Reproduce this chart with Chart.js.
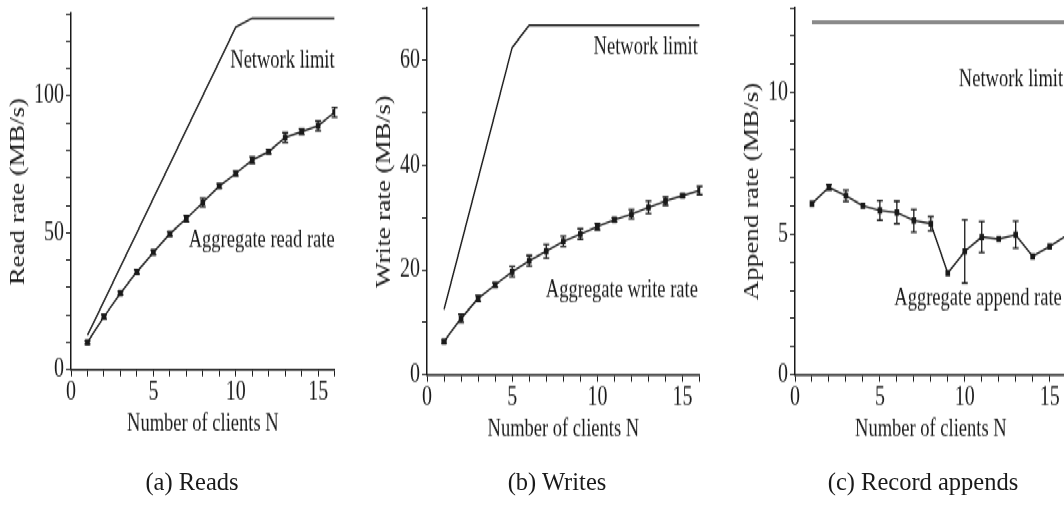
<!DOCTYPE html>
<html>
<head>
<meta charset="utf-8">
<script src="https://cdn.jsdelivr.net/npm/chart.js@4/dist/chart.umd.min.js"></script>
<style>
  html, body { margin: 0; padding: 0; background: #fff; overflow: hidden; width: 1064px; height: 505px; }
  /* the figure is drawn a bit squashed and stretched back vertically, like the scanned original */
  #plots { position: absolute; left: 0; top: 0; width: 1100px; height: 370px; transform: scaleY(1.35); transform-origin: 0 0; }
  .panel { position: absolute; top: 0; height: 370px; }
  .caption { position: absolute; top: 470px; transform: translateX(-50%); font: 24.5px 'Liberation Serif', serif; line-height: 24px; color: #1a1a1a; white-space: nowrap; }
</style>
</head>
<body>
<div id="plots">
  <div class="panel" style="left:0px;width:340px"><canvas id="chartReads"></canvas></div>
  <div class="panel" style="left:366px;width:339px"><canvas id="chartWrites"></canvas></div>
  <div class="panel" style="left:734px;width:338px"><canvas id="chartAppends"></canvas></div>
</div>
<div class="caption" style="left:192px">(a) Reads</div>
<div class="caption" style="left:557px">(b) Writes</div>
<div class="caption" style="left:923px">(c) Record appends</div>

<script>
const clients = [1, 2, 3, 4, 5, 6, 7, 8, 9, 10, 11, 12, 13, 14, 15, 16];

const readLimit = [12.5, 25, 37.5, 50, 62.5, 75, 87.5, 100, 112.5, 125, 128.3, 128.3, 128.3, 128.3, 128.3, 128.3];
const readRate = [10, 19.3, 27.9, 35.7, 42.8, 49.6, 55.1, 61, 67, 71.6, 76.5, 79.6, 84.7, 86.9, 89, 93.9];
const readErr = [0.6, 0.8, 0.6, 0.8, 0.8, 0.8, 1.2, 1.5, 0.8, 0.8, 1.2, 0.8, 1.8, 1.0, 1.8, 1.8];

const writeLimit = [12.5, 25, 37.5, 50, 62.5, 66.7, 66.7, 66.7, 66.7, 66.7, 66.7, 66.7, 66.7, 66.7, 66.7, 66.7];
const writeRate = [6.4, 10.8, 14.6, 17.2, 19.7, 21.8, 23.6, 25.5, 26.9, 28.3, 29.6, 30.7, 32, 33.2, 34.2, 35.2];
const writeErr = [0.3, 0.8, 0.6, 0.4, 1.0, 1.0, 1.3, 1.0, 1.0, 0.6, 0.4, 0.9, 1.2, 0.8, 0.3, 0.8];

const appendLimit = [12.5, 12.5, 12.5, 12.5, 12.5, 12.5, 12.5, 12.5, 12.5, 12.5, 12.5, 12.5, 12.5, 12.5, 12.5, 12.5];
const appendRate = [6.07, 6.65, 6.35, 6.0, 5.83, 5.76, 5.47, 5.36, 3.61, 4.38, 4.89, 4.82, 4.97, 4.2, 4.55, 4.95];
const appendErr = [0, 0.1, 0.2, 0, 0.35, 0.4, 0.4, 0.25, 0, 1.12, 0.55, 0, 0.48, 0, 0, 0];

const ink = '#1a1a1a';
const serif = "'Liberation Serif', 'Times New Roman', serif";

const toPoints = (ys) => clients.map((x, i) => ({ x, y: ys[i] }));

// vertical error bars with small caps, placed through the chart scales
const errorBars = {
  id: 'errorBars',
  afterDatasetsDraw(chart) {
    const { ctx, scales } = chart;
    chart.data.datasets.forEach((ds) => {
      if (!ds.errors) return;
      ctx.save();
      ctx.strokeStyle = ink;
      ctx.lineWidth = 1.3;
      ds.data.forEach((p, j) => {
        const e = ds.errors[j];
        if (!e) return;
        const px = scales.x.getPixelForValue(p.x);
        const top = scales.y.getPixelForValue(p.y + e);
        const bot = scales.y.getPixelForValue(p.y - e);
        ctx.beginPath();
        ctx.moveTo(px, top); ctx.lineTo(px, bot);
        ctx.moveTo(px - 3, top); ctx.lineTo(px + 3, top);
        ctx.moveTo(px - 3, bot); ctx.lineTo(px + 3, bot);
        ctx.stroke();
      });
      ctx.restore();
    });
  },
};

// text labels inside the plot, anchored at data coordinates
const notes = {
  id: 'notes',
  afterDraw(chart, args, opts) {
    const { ctx, scales } = chart;
    ctx.save();
    ctx.font = `18.5px ${serif}`;
    ctx.fillStyle = ink;
    ctx.textBaseline = 'middle';
    (opts.items || []).forEach((it) => {
      ctx.textAlign = it.align;
      ctx.fillText(it.text, scales.x.getPixelForValue(it.x), scales.y.getPixelForValue(it.y));
    });
    ctx.restore();
  },
};

function makeChart(id, cfg) {
  const ctx = document.getElementById(id);
  if (Chart.getChart(id)) {
    Chart.getChart(id).destroy();
  }
  return new Chart(ctx, {
    type: 'line',
    data: {
      datasets: [
        {
          label: 'Network limit',
          data: toPoints(cfg.limit),
          borderColor: cfg.limitColor,
          borderWidth: cfg.limitWidth,
          pointRadius: 0,
          tension: 0,
        },
        {
          label: cfg.rateLabel,
          data: toPoints(cfg.rate),
          errors: cfg.err,
          borderColor: ink,
          borderWidth: 1.4,
          pointStyle: 'rect',
          pointRadius: 2.3,
          pointBackgroundColor: ink,
          pointBorderColor: ink,
          tension: 0,
        },
      ],
    },
    options: {
      responsive: true,
      maintainAspectRatio: false,
      animation: false,
      layout: { padding: { top: cfg.padTop, right: 5, bottom: cfg.padBottom, left: 0 } },
      plugins: {
        legend: { display: false },
        tooltip: { enabled: false },
        notes: { items: cfg.notes },
      },
      scales: {
        x: {
          type: 'linear',
          min: 0,
          max: 16,
          border: { display: true, color: ink, width: 1.5 },
          grid: { display: true, drawOnChartArea: false, drawTicks: true, tickLength: 5, color: ink, lineWidth: 1 },
          ticks: {
            stepSize: 1,
            autoSkip: false,
            maxRotation: 0,
            padding: 0,
            color: ink,
            font: { family: serif, size: 20 },
            callback: (v) => (v % 5 === 0 ? String(v) : ''),
          },
          title: { display: true, text: 'Number of clients N', color: ink, font: { family: serif, size: 18.5 }, padding: { top: 0, bottom: 0 } },
        },
        y: {
          min: 0,
          max: cfg.yMax,
          // the top tick has no label, so no room is needed above it
          afterFit: (scale) => { scale.paddingTop = 0; },
          border: { display: true, color: ink, width: 1.5 },
          grid: { display: true, drawOnChartArea: false, drawTicks: true, tickLength: 5, color: ink, lineWidth: 1 },
          ticks: {
            stepSize: cfg.yStep,
            autoSkip: false,
            padding: 2,
            color: ink,
            font: { family: serif, size: 20 },
            callback: (v) => (v % cfg.yLabelEvery === 0 ? String(v) : ''),
          },
          title: { display: true, text: cfg.yTitle, color: ink, font: { family: serif, size: 20 }, padding: { top: 7, bottom: 1 } },
        },
      },
    },
    plugins: [errorBars, notes],
  });
}

makeChart('chartReads', {
  limit: readLimit, rate: readRate, err: readErr,
  limitColor: ink, limitWidth: 1.4,
  rateLabel: 'Aggregate read rate',
  yMax: 130, yStep: 10, yLabelEvery: 50,
  yTitle: 'Read rate (MB/s)',
  padTop: 10, padBottom: 45,
  notes: [
    { text: 'Network limit', x: 16, y: 112.7, align: 'right' },
    { text: 'Aggregate read rate', x: 16, y: 47, align: 'right' },
  ],
});

makeChart('chartWrites', {
  limit: writeLimit, rate: writeRate, err: writeErr,
  limitColor: ink, limitWidth: 1.4,
  rateLabel: 'Aggregate write rate',
  yMax: 70, yStep: 10, yLabelEvery: 20,
  yTitle: 'Write rate (MB/s)',
  padTop: 6, padBottom: 41,
  notes: [
    { text: 'Network limit', x: 15.9, y: 62.5, align: 'right' },
    { text: 'Aggregate write rate', x: 15.9, y: 16.2, align: 'right' },
  ],
});

makeChart('chartAppends', {
  limit: appendLimit, rate: appendRate, err: appendErr,
  limitColor: '#8a8a8a', limitWidth: 3,
  rateLabel: 'Aggregate append rate',
  yMax: 13, yStep: 1, yLabelEvery: 5,
  yTitle: 'Append rate (MB/s)',
  padTop: 6, padBottom: 41,
  notes: [
    { text: 'Network limit', x: 9.65, y: 10.44, align: 'left' },
    { text: 'Aggregate append rate', x: 5.85, y: 2.73, align: 'left' },
  ],
});
</script>
</body>
</html>
